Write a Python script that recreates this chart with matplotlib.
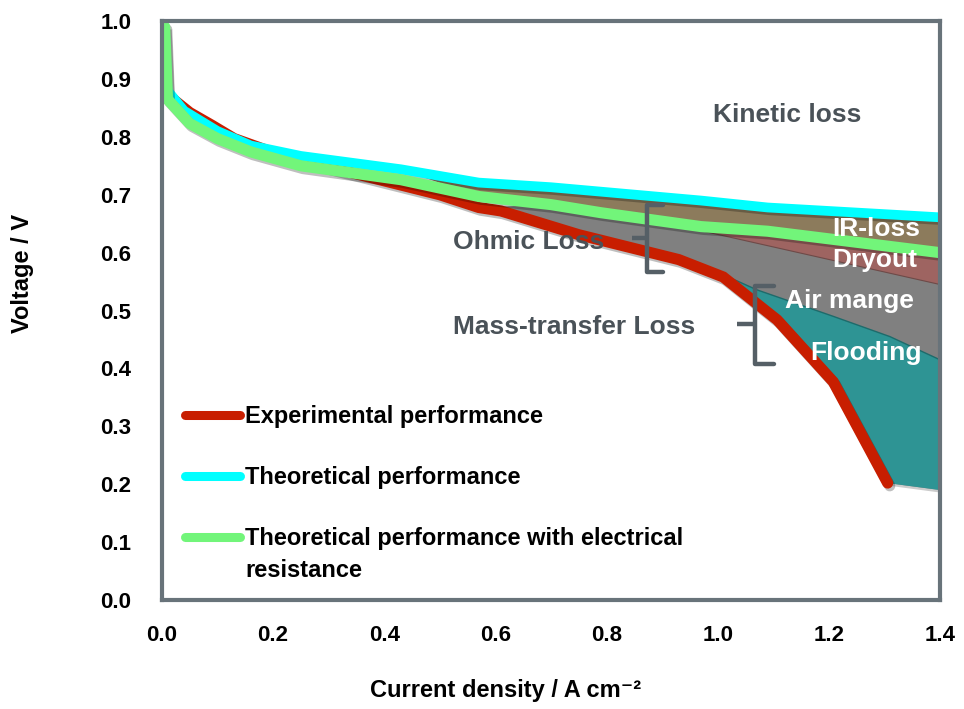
import matplotlib

matplotlib.use("Agg")
import matplotlib.pyplot as plt
import matplotlib.patheffects as pe
import numpy as np

plt.rcParams["font.family"] = ["Liberation Sans", "DejaVu Sans"]
plt.rcParams["font.weight"] = "bold"

# polarisation curves (current density in A cm-2, voltage in V)
theory_x = [0.005, 0.01, 0.04, 0.1, 0.16, 0.25, 0.43, 0.57, 0.7, 0.97, 1.09, 1.4]
theory_v = [0.99, 0.88, 0.845, 0.81, 0.785, 0.767, 0.744, 0.721, 0.713, 0.69, 0.678, 0.661]

ohmic_x = [0.005, 0.01, 0.05, 0.1, 0.16, 0.25, 0.43, 0.57, 0.7, 0.79, 0.97, 1.09, 1.4]
ohmic_v = [0.99, 0.865, 0.823, 0.797, 0.774, 0.75, 0.726, 0.697, 0.683, 0.669, 0.645, 0.637, 0.60]

exp_x = [0.02, 0.05, 0.09, 0.13, 0.2, 0.3, 0.4, 0.5, 0.57, 0.61, 0.75, 0.93, 1.01, 1.107, 1.208, 1.306]
exp_v = [0.865, 0.842, 0.82, 0.797, 0.773, 0.748, 0.724, 0.70, 0.678, 0.672, 0.631, 0.588, 0.558, 0.484, 0.377, 0.202]

# loss-region boundaries (upper / lower curve start points give the tapered ends)
ir_start_upper, ir_start_lower = 0.43, 0.57
gray_start_upper, gray_start_lower = 0.7, 0.57
dryout_x = [0.97, 1.4]
dryout_v = [0.638, 0.545]
flood_top_x = [1.017, 1.07, 1.208, 1.31, 1.4]
flood_top_v = [0.559, 0.536, 0.49, 0.455, 0.415]
floor_x = [1.4, 1.306]
floor_v = [0.19, 0.202]

C_RED = "#C81E00"
C_CYAN = "#00FFFF"
C_GREEN = "#72F57A"
C_BROWN = "#8C7B5C"
C_GRAY = "#808080"
C_DRY = "#9E6461"
C_TEAL = "#2E9494"
C_TEXT = "#4A5258"
C_FRAME = "#68737A"

tx, tv = np.array(theory_x), np.array(theory_v)
ox, ov = np.array(ohmic_x), np.array(ohmic_v)
ex, ev = np.array(exp_x), np.array(exp_v)

fig = plt.figure(figsize=(9.64, 7.09), dpi=100)
ax = fig.add_axes([0.168, 0.1537, 0.807, 0.8166])

shadow = [pe.SimpleLineShadow(offset=(1.5, -2.0), shadow_color="k", alpha=0.25), pe.Normal()]
fill_shadow = [pe.SimplePatchShadow(offset=(1.5, -2.0), shadow_rgbFace="k", alpha=0.2), pe.Normal()]

# IR loss: between theoretical and resistance-corrected curves
m_t = tx >= ir_start_upper
m_o = ox >= ir_start_lower
ax.fill(np.r_[tx[m_t], ox[m_o][::-1]], np.r_[tv[m_t], ov[m_o][::-1]],
        color=C_BROWN, lw=0, zorder=1)

# mass-transfer / ohmic gap down to the experimental curve
m_o = ox >= gray_start_upper
m_e = ex >= gray_start_lower
ax.fill(np.r_[ox[m_o], floor_x[0], ex[m_e][::-1]],
        np.r_[ov[m_o], floor_v[0], ev[m_e][::-1]],
        color=C_GRAY, lw=0, zorder=1, path_effects=fill_shadow)

# dryout wedge under the green curve
m_o = ox >= dryout_x[0]
ax.fill(np.r_[ox[m_o], dryout_x[::-1]], np.r_[ov[m_o], dryout_v[::-1]],
        color=C_DRY, lw=0, zorder=2)

# flooding region
m_e = (ex >= flood_top_x[0]) & (ex <= floor_x[1])
ax.fill(np.r_[flood_top_x, floor_x, ex[m_e][::-1]],
        np.r_[flood_top_v, floor_v, ev[m_e][::-1]],
        color=C_TEAL, lw=0, zorder=2)
ax.plot(flood_top_x, flood_top_v, color="#1E6B6B", lw=1.0, zorder=2)
ax.plot(dryout_x, dryout_v, color="#6E4A48", lw=0.8, zorder=2)

ax.plot(ex, ev, color=C_RED, lw=8, solid_capstyle="round", solid_joinstyle="miter",
        zorder=3, path_effects=shadow)
ax.plot(tx, tv, color=C_CYAN, lw=7, solid_capstyle="butt", zorder=4, path_effects=shadow)
ax.plot(ox, ov, color=C_GREEN, lw=8, solid_capstyle="round", zorder=5, path_effects=shadow)

# braces marking the loss groups
def brace(x0, x1, xn, y_top, y_bot, y_mid):
    ax.plot([x1, x0, x0, x1], [y_top, y_top, y_bot, y_bot], color="#555F66", lw=3.2,
            solid_joinstyle="round", solid_capstyle="round", zorder=6)
    ax.plot([xn, x0], [y_mid, y_mid], color="#555F66", lw=3.2, solid_capstyle="butt", zorder=6)


brace(0.873, 0.902, 0.846, 0.682, 0.566, 0.625)
brace(1.067, 1.101, 1.035, 0.543, 0.407, 0.476)

lbl = dict(fontsize=19, fontweight="bold", va="center", zorder=7)
ax.text(1.125, 0.837, "Kinetic loss", color=C_TEXT, ha="center", **lbl)
ax.text(0.524, 0.619, "Ohmic Loss", color=C_TEXT, ha="left", **lbl)
ax.text(0.524, 0.472, "Mass-transfer Loss", color=C_TEXT, ha="left", **lbl)
ax.text(1.364, 0.640, "IR-loss", color="white", ha="right", **lbl)
ax.text(1.360, 0.587, "Dryout", color="white", ha="right", **lbl)
ax.text(1.121, 0.516, "Air mange", color="white", ha="left", **lbl)
ax.text(1.166, 0.426, "Flooding", color="white", ha="left", **lbl)

# hand-placed key in axes coordinates
entries = [
    (C_RED, "Experimental performance", 0.3195),
    (C_CYAN, "Theoretical performance", 0.214),
    (C_GREEN, "Theoretical performance with electrical\nresistance", 0.1088),
]
for color, text, yy in entries:
    ax.plot([0.0296, 0.1003], [yy, yy], transform=ax.transAxes, color=color, lw=6.5,
            solid_capstyle="round", zorder=6)
    ax.text(0.1067, yy + 0.018, text, transform=ax.transAxes, ha="left", va="top",
            fontsize=17, fontweight="bold", color="black", linespacing=1.5, zorder=7)

ax.set_xlim(0, 1.4)
ax.set_ylim(0, 1.0)
ax.set_xticks(np.arange(0, 1.41, 0.2))
ax.set_yticks(np.arange(0, 1.01, 0.1))
ax.set_xticklabels([f"{v:.1f}" for v in np.arange(0, 1.41, 0.2)])
ax.set_yticklabels([f"{v:.1f}" for v in np.arange(0, 1.01, 0.1)])
ax.tick_params(axis="x", length=0, pad=18, labelsize=16)
ax.tick_params(axis="y", length=0, pad=22, labelsize=16)
for t in ax.get_xticklabels() + ax.get_yticklabels():
    t.set_fontweight("bold")
for s in ax.spines.values():
    s.set_color(C_FRAME)
    s.set_linewidth(3)
    s.set_zorder(8)

fig.text(506 / 964, 1 - 690 / 709, "Current density / A cm\u207b\u00b2", ha="center", va="center",
         fontsize=17, fontweight="bold")
fig.text(22 / 964, 1 - 273 / 709, "Voltage / V", rotation=90, ha="center", va="center",
         fontsize=17, fontweight="bold")

fig.savefig("out.png", dpi=100)
